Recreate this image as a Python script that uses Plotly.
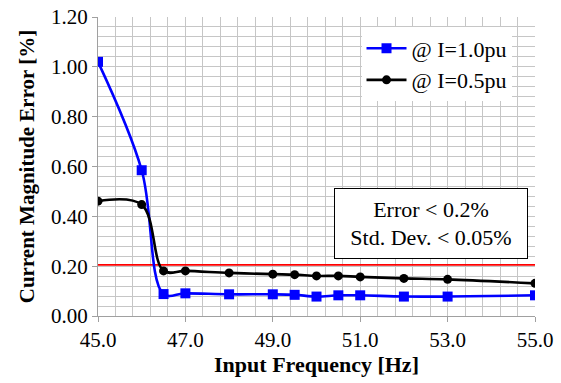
import plotly.graph_objects as go

freq_1pu = [45.0, 46.0, 46.5, 47.0, 48.0, 49.0, 49.5, 50.0, 50.5, 51.0, 52.0, 53.0, 55.0]
err_1pu = [1.02, 0.585, 0.088, 0.091, 0.087, 0.087, 0.085, 0.078, 0.083, 0.083, 0.078, 0.078, 0.083]

freq_05pu = [45.0, 46.0, 46.5, 47.0, 48.0, 49.0, 49.5, 50.0, 50.5, 51.0, 52.0, 53.0, 55.0]
err_05pu = [0.461, 0.447, 0.181, 0.181, 0.173, 0.168, 0.166, 0.161, 0.161, 0.157, 0.151, 0.147, 0.131]

limit_x = [45.0, 55.0]
limit_y = [0.205, 0.205]

x_ticks = [45.0, 47.0, 49.0, 51.0, 53.0, 55.0]
y_ticks = [0.0, 0.2, 0.4, 0.6, 0.8, 1.0, 1.2]

FONT = "Liberation Serif"
GRID = "#c6c6c6"

fig = go.Figure()
fig.add_trace(go.Scatter(x=limit_x, y=limit_y, mode="lines",
                         line=dict(color="#ff0000", width=1.6),
                         showlegend=False, hoverinfo="skip"))
fig.add_trace(go.Scatter(x=freq_1pu, y=err_1pu, mode="lines+markers",
                         name="@ I=1.0pu",
                         line=dict(color="#0000ff", width=2.6, shape="spline", smoothing=1.0),
                         marker=dict(symbol="square", size=10, color="#0000ff")))
fig.add_trace(go.Scatter(x=freq_05pu, y=err_05pu, mode="lines+markers",
                         name="@ I=0.5pu",
                         line=dict(color="#000000", width=2.6, shape="spline", smoothing=1.0),
                         marker=dict(symbol="circle", size=9, color="#000000")))

fig.update_layout(
    width=561, height=383,
    margin=dict(l=98, r=26, t=17, b=67, autoexpand=False),
    paper_bgcolor="white", plot_bgcolor="white",
    font=dict(family=FONT, size=21, color="#000000"),
    showlegend=True,
    legend=dict(x=0.603, y=0.965, xanchor="left", yanchor="top",
                bgcolor="white", borderwidth=0,
                font=dict(family=FONT, size=22, color="#000000"),
                tracegroupgap=0, itemwidth=40),
    annotations=[dict(
        text="Error < 0.2%<br>Std. Dev. < 0.05%",
        x=0.762, y=0.309, xref="paper", yref="paper",
        xanchor="center", yanchor="middle", showarrow=False,
        font=dict(family=FONT, size=22, color="#000000"),
        width=178, height=55,
        bgcolor="white", bordercolor="#000000", borderwidth=1, borderpad=7,
        align="center")],
)

fig.update_xaxes(
    range=[45, 55], tickvals=x_ticks, ticktext=[f"{v:.1f}" for v in x_ticks],
    showgrid=True, gridcolor=GRID, gridwidth=1,
    minor=dict(dtick=0.4, tick0=45, showgrid=True, gridcolor=GRID, gridwidth=1),
    showline=True, linecolor="#a0a0a0", linewidth=1,
    ticks="outside", ticklen=5, tickcolor="#a0a0a0",
    zeroline=False, automargin=False, ticklabeloverflow="allow",
    title=dict(text="<b>Input Frequency [Hz]</b>", font=dict(family=FONT, size=22), standoff=4),
    tickfont=dict(family=FONT, size=21),
)
fig.update_yaxes(
    range=[0, 1.2], tickvals=y_ticks, ticktext=[f"{v:.2f}" for v in y_ticks],
    showgrid=True, gridcolor=GRID, gridwidth=1,
    minor=dict(dtick=0.04, tick0=0, showgrid=True, gridcolor=GRID, gridwidth=1),
    showline=True, linecolor="#a0a0a0", linewidth=1,
    ticks="outside", ticklen=5, tickcolor="#a0a0a0",
    zeroline=False, automargin=False, ticklabeloverflow="allow",
    title=dict(text="<b>Current Magnitude Error [%]</b>", font=dict(family=FONT, size=21), standoff=10),
    tickfont=dict(family=FONT, size=21),
)

fig.write_html("out.html", config={"displayModeBar": False},
               post_script="document.body.style.margin='0';")
